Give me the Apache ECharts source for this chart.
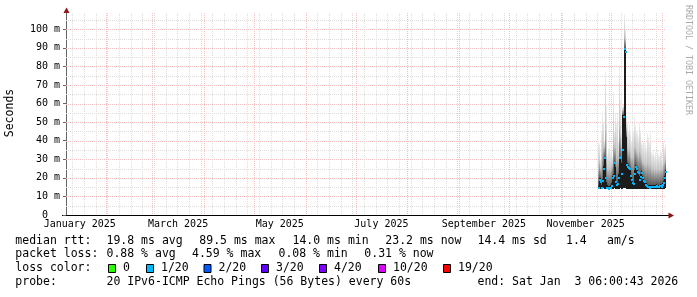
<!DOCTYPE html>
<html><head><meta charset="utf-8">
<script src="https://cdn.jsdelivr.net/npm/echarts@6/dist/echarts.min.js"></script>
<style>html,body{margin:0;padding:0;background:#fff}#c{width:697px;height:297px}</style>
</head><body><div id="c"></div>
<script>
// ---------- data ----------
const startTime = '2025-01-08T06:00:43Z';   // graph start (end - 360 days)
const rangeDays = 360;
const monthStarts = ['2025-02-01','2025-03-01','2025-04-01','2025-05-01','2025-06-01','2025-07-01',
  '2025-08-01','2025-09-01','2025-10-01','2025-11-01','2025-12-01','2026-01-01'];
const labelMonths = ['2025-01','2025-03','2025-05','2025-07','2025-09','2025-11'];
const monthLabels = ['January 2025','March 2025','May 2025','July 2025','September 2025','November 2025'];
const firstSunday = '2025-01-12';
const yTicks = [0,10,20,30,40,50,60,70,80,90,100];
const yMinorTicks = [5,15,25,35,45,55,65,75,85,95,105];
const yMax = 108.8;

// samples (days since start), one per 0.6 day
const firstSampleDay = 319.2;
const sampleStepDays = 0.6;
const medianVals = [14.6,18.8,18.0,14.5,18.3,25.0,30.5,20.0,14.5,14.5,
  14.0,14.6,14.8,15.5,20.0,21.0,28.0,18.0,16.0,16.5,
  20.0,30.5,31.0,22.0,35.0,53.0,89.5,88.0,27.0,26.0,
  25.5,25.0,21.0,19.0,17.5,16.5,22.0,26.0,25.0,23.3,
  22.4,19.0,20.5,22.4,20.0,18.5,18.0,16.2,15.8,15.3,
  15.0,14.8,15.0,15.2,15.0,15.1,14.9,15.3,15.5,15.0,
  15.2,15.4,15.6,15.1,16.0,17.0,20.0,23.2];
const minVals = [14.0,14.2,14.1,13.8,14.0,14.3,14.0,14.1,13.9,13.8,
  13.8,14.0,14.1,14.2,14.0,14.1,14.3,14.0,14.0,14.1,
  14.0,14.2,14.3,14.0,14.2,14.3,14.5,14.4,14.2,14.1,
  14.0,14.0,14.1,14.0,13.9,13.9,14.0,14.1,14.0,14.0,
  14.0,13.9,14.0,14.1,14.0,13.9,13.9,13.8,13.8,13.9,
  13.8,13.8,13.9,13.9,13.8,13.9,13.8,13.9,14.0,13.8,
  13.9,13.9,14.0,13.9,14.0,14.1,14.2,14.3];
const darkVals = [15.5,20,20,16,19.5,26.5,31.5,30,18,16,
  15.5,15.5,16,17,21,22,28.5,26,18,18,
  22,31.5,31.5,28,54,54,90,90,42,28,
  27,26,24,21,19,18,24,27,26,24.5,
  23.5,21,22,23.5,21,19.5,19,17.5,17,16.5,
  16.2,16,16.3,16.2,16,16.2,16,16.3,16.5,16,
  16.2,16.4,16.6,16.2,17,18.5,21,24];
const midVals = [24,28,25,26,34,36,36,45,32,24,
  24,25,24,26,27,38,36,36,30,32,
  30,48,42,36,56,57,96,94,47,36,
  34,35,32,30,31,30,36,36,34,33,
  31,34,33,30,28,28,27,27,26,28,
  27,26,27,24,24,25,23,24,23,24,
  24,23,24,24,24,27,28,30];
const maxVals = [40,38,30,45,56,50,40,77,60,33,
  36,37,34,36,32,66,45,55,50,55,
  40,80,62,45,58,60,108,100,53,50,
  45,48.5,44,40,47.5,45,53,48,46,44,
  42,49.5,46,40,38,40,37,39,36,44,
  42,40,44,34,33,35,32,34,31,35,
  33,32,35,34,30,40,36,38];

const rttStats = ['19.8 ms avg','89.5 ms max','14.0 ms min','23.2 ms now','14.4 ms sd','1.4','am/s'];
const lossStats = ['0.88 % avg','4.59 % max','0.08 % min','0.31 % now'];
const lossLabels = ['0','1/20','2/20','3/20','4/20','10/20','19/20'];
const lossColors = ['#26ff00','#00b8ff','#0059ff','#5e00ff','#7e00ff','#dd00ff','#ff0000'];
const probeText = '20 IPv6-ICMP Echo Pings (56 Bytes) every 60s';
const endText = 'end: Sat Jan  3 06:00:43 2026';

// ---------- helpers ----------
const t0 = Date.parse(startTime);
const dayOf = s => (Date.parse(s.length === 10 ? s + 'T00:00:00Z' : s) - t0) / 86400000;
const monthLineDays = monthStarts.map(dayOf);
const labelDays = labelMonths.map(m => {
  const [y, mo] = m.split('-').map(Number);
  const a = (Date.UTC(y, mo - 1, 1) - t0) / 86400000;
  const b = (Date.UTC(y, mo, 1) - t0) / 86400000;
  return (a + b) / 2;
});
const weekDays = [];
for (let d = dayOf(firstSunday); d < rangeDays; d += 7) weekDays.push(d);

const smokeData = medianVals.map((m, i) => [firstSampleDay + i * sampleStepDays, minVals[i], darkVals[i], midVals[i], maxVals[i]]);
const medianData = medianVals.map((m, i) => [firstSampleDay + i * sampleStepDays, m]);

const FONT = '"DejaVu Sans Mono", monospace';
const gridGrey = '#dedede', gridRed = '#f2c0c0';

function vLine(color) {
  return function (params, api) {
    const x = Math.round(api.coord([api.value(0), 0])[0]) + 0.5;
    const cs = params.coordSys;
    return { type: 'line', shape: { x1: x, y1: cs.y, x2: x, y2: cs.y + cs.height },
      style: { stroke: color, lineWidth: 1, lineDash: [1, 1] } };
  };
}
function hLine(color) {
  return function (params, api) {
    const y = Math.round(api.coord([0, api.value(0)])[1]) + 0.5;
    const cs = params.coordSys;
    return { type: 'line', shape: { x1: cs.x, y1: y, x2: cs.x + cs.width, y2: y },
      style: { stroke: color, lineWidth: 1, lineDash: [1, 1] } };
  };
}

const chart = echarts.init(document.getElementById('c'), null, { renderer: 'canvas' });
const gTop = new echarts.graphic.LinearGradient(0, 0, 0, 1, [{ offset: 0, color: '#f0f0f0' }, { offset: 1, color: '#c4c4c4' }]);
const gMid = new echarts.graphic.LinearGradient(0, 0, 0, 1, [{ offset: 0, color: '#bcbcbc' }, { offset: 1, color: '#5a5a5a' }]);

const graphics = [];
function txt(x, y, s, extra) {
  graphics.push(Object.assign({ type: 'text', x: x, y: y, silent: true,
    style: { text: s, font: '11.5px ' + FONT, fill: '#000', verticalAlign: 'middle', align: 'left' } }, extra || {}));
}
// legend rows
const rttX = [106.5, 199.3, 292.5, 385.3, 477.5, 566, 607];
txt(15.3, 241, 'median rtt:');
rttStats.forEach((s, i) => txt(rttX[i], 241, s));
const lossX = [106.5, 192, 278.5, 364.3];
txt(15.3, 254.5, 'packet loss:');
lossStats.forEach((s, i) => txt(lossX[i], 254.5, s));
txt(15.3, 268.5, 'loss color:');
const boxX = [108, 146, 203.5, 261, 319, 378, 443];
lossLabels.forEach((s, i) => {
  graphics.push({ type: 'rect', silent: true, shape: { x: boxX[i] + 0.5, y: 264.5, width: 7, height: 8 },
    style: { fill: lossColors[i], stroke: '#000', lineWidth: 1 } });
  txt(boxX[i] + 15, 268.5, s);
});
txt(15.3, 282.5, 'probe:');
txt(106.5, 282.5, probeText);
txt(477.5, 282.5, endText);
// axis title & watermark
graphics.push({ type: 'text', x: 10.5, y: 113, rotation: Math.PI / 2, silent: true,
  style: { text: 'Seconds', font: '11.5px ' + FONT, fill: '#000', align: 'center', verticalAlign: 'middle' } });
graphics.push({ type: 'text', x: 688, y: 60, rotation: -Math.PI / 2, silent: true,
  style: { text: 'RRDTOOL / TOBI OETIKER', font: '8.3px ' + FONT, fill: '#aaaaaa', align: 'center', verticalAlign: 'middle' } });
// axis extensions & arrows
graphics.push({ type: 'line', silent: true, shape: { x1: 62, y1: 215.5, x2: 669, y2: 215.5 }, style: { stroke: '#000', lineWidth: 1 } });
graphics.push({ type: 'polygon', silent: true, shape: { points: [[668.5, 212.5], [674, 215.5], [668.5, 218.5]] }, style: { fill: '#8b1414' } });
graphics.push({ type: 'polygon', silent: true, shape: { points: [[63.5, 13], [66.5, 7.5], [69.5, 13]] }, style: { fill: '#8b1414' } });

const option = {
  animation: false,
  backgroundColor: '#ffffff',
  grid: { left: 66, right: 31, top: 13, bottom: 82, containLabel: false, outerBoundsMode: 'none' },
  xAxis: {
    type: 'value', min: 0, max: rangeDays,
    axisLine: { show: true, lineStyle: { color: '#000', width: 1 } },
    axisTick: { show: false },
    splitLine: { show: false },
    axisLabel: {
      customValues: labelDays, margin: 4, color: '#000', fontFamily: 'DejaVu Sans Mono', fontSize: 10,
      formatter: v => { let k = 0, best = 1e9; labelDays.forEach((d, i) => { if (Math.abs(d - v) < best) { best = Math.abs(d - v); k = i; } }); return monthLabels[k]; }
    }
  },
  yAxis: {
    type: 'value', min: 0, max: yMax,
    axisLine: { show: true, lineStyle: { color: '#666', width: 1 } },
    axisTick: { show: true, customValues: yTicks, length: 3, lineStyle: { color: '#666' } },
    splitLine: { show: false },
    axisLabel: {
      customValues: yTicks, margin: 6, color: '#000', fontFamily: 'DejaVu Sans Mono', fontSize: 10,
      formatter: v => v === 0 ? '0  ' : v + ' m'
    }
  },
  series: [
    { type: 'custom', name: 'weekGrid', silent: true, z: 1, encode: { x: 0 }, data: weekDays.map(d => [d]), renderItem: vLine(gridGrey) },
    { type: 'custom', name: 'yMinorGrid', silent: true, z: 1, encode: { y: 0 }, data: yMinorTicks.map(v => [v]), renderItem: hLine(gridGrey) },
    { type: 'custom', name: 'yMajorGrid', silent: true, z: 2, encode: { y: 0 }, data: yTicks.filter(v => v > 0).map(v => [v]), renderItem: hLine(gridRed) },
    { type: 'custom', name: 'monthGrid', silent: true, z: 2, encode: { x: 0 }, data: monthLineDays.map(d => [d]), renderItem: vLine(gridRed) },
    {
      type: 'custom', name: 'smoke', silent: true, z: 3, encode: { x: 0, y: [1, 2, 3, 4] }, data: smokeData,
      renderItem: function (params, api) {
        const x = api.value(0);
        const pMin = api.coord([x, api.value(1)]);
        const pDark = api.coord([x, api.value(2)]);
        const pMid = api.coord([x, api.value(3)]);
        const pMax = api.coord([x, api.value(4)]);
        const w = Math.max(1, Math.round(api.size([sampleStepDays, 0])[0]));
        const left = Math.round(pMin[0]);
        const yMn = Math.round(pMin[1]), yD = Math.round(pDark[1]), yMd = Math.round(pMid[1]), yMx = Math.round(pMax[1]);
        return { type: 'group', children: [
          { type: 'rect', shape: { x: left, y: yMx, width: w, height: Math.max(0, yMd - yMx) }, style: { fill: gTop } },
          { type: 'rect', shape: { x: left, y: yMd, width: w, height: Math.max(0, yD - yMd) }, style: { fill: gMid } },
          { type: 'rect', shape: { x: left, y: yD, width: w, height: Math.max(0, yMn - yD) }, style: { fill: '#1c1c1c' } }
        ] };
      }
    },
    {
      type: 'custom', name: 'median', silent: true, z: 4, encode: { x: 0, y: 1 }, data: medianData,
      renderItem: function (params, api) {
        const p = api.coord([api.value(0), api.value(1)]);
        return { type: 'rect', shape: { x: Math.round(p[0]), y: Math.round(p[1]) - 1, width: 2, height: 2 }, style: { fill: lossColors[1] } };
      }
    }
  ],
  graphic: graphics
};
chart.setOption(option);
</script></body></html>
